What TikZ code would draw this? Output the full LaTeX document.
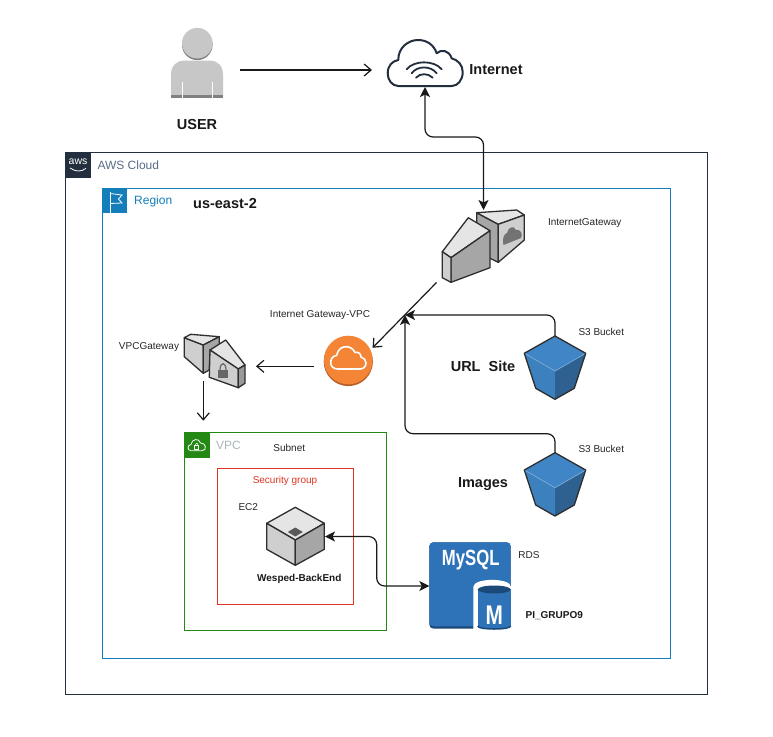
\documentclass[tikz,border=0pt]{standalone}
\usepackage{fontspec}
\setmainfont{Liberation Sans}
\usetikzlibrary{arrows.meta}
\definecolor{awsdark}{HTML}{232F3E}
\definecolor{awsblue}{HTML}{147EBA}
\definecolor{awsgreen}{HTML}{248814}
\definecolor{awsred}{HTML}{DD3522}
\definecolor{cloudtxt}{HTML}{5A6C86}
\definecolor{vpctxt}{HTML}{AAB7B8}
\definecolor{edgegray}{HTML}{2E2E2E}
\definecolor{bucketL}{HTML}{3C80BE}
\definecolor{bucketR}{HTML}{2E6090}
\definecolor{bucketT}{HTML}{4086C6}
\definecolor{rdsblue}{HTML}{2E73B8}
\definecolor{rdsdark}{HTML}{1B4A78}
\definecolor{orangemain}{HTML}{F58536}
\definecolor{orangedark}{HTML}{B9602A}
\tikzset{
  small/.style={font=\fontsize{10}{12}\selectfont,text=black!85,inner sep=0pt},
  smallbold/.style={font=\fontsize{10}{12}\selectfont\bfseries,text=black!90,inner sep=0pt},
  big/.style={font=\fontsize{14.5}{16}\selectfont\bfseries,text=black!90,inner sep=0pt},
  grouptxt/.style={font=\fontsize{12}{14}\selectfont,inner sep=0pt,anchor=west},
  groupbox/.style={draw,line width=1pt,inner sep=0pt,fill=none},
  iconbox/.style={inner sep=0pt,outer sep=0pt},
  facet/.style={draw=edgegray,line width=1.3pt,line join=round},
  wire/.style={draw=black!90,line width=1.2pt},
  openarrow/.style={wire,-{Straight Barb[length=7pt,width=12pt]}},
  solidarrow/.style={wire,-{Stealth[length=10pt,width=10pt,inset=2.5pt]},rounded corners=8pt},
  bothsolid/.style={wire,{Stealth[length=10pt,width=10pt,inset=2.5pt]}-{Stealth[length=10pt,width=10pt,inset=2.5pt]},rounded corners=8pt},
}
\begin{document}
\begin{tikzpicture}[x=1pt,y=-1pt]
\useasboundingbox (0,0) rectangle (773,736);
\fill[white] (0,0) rectangle (773,736);

% --- group boxes
\node[groupbox,draw=awsdark,minimum width=642pt,minimum height=542pt] (cloudbox) at (386.5,423.2) {};
\node[groupbox,draw=awsblue,minimum width=568pt,minimum height=470pt] (regionbox) at (386.3,423.3) {};
\node[groupbox,draw=awsgreen,minimum width=202.4pt,minimum height=197.6pt] (vpcbox) at (285.5,531.5) {};
\node[groupbox,draw=awsred,minimum width=136.4pt,minimum height=136pt] (sgbox) at (285.5,536.3) {};

% AWS logo
\fill[awsdark] (65.3,152.3) rectangle (90.5,177.5);
\node[inner sep=0pt,text=white,font=\fontsize{10.5}{12}\selectfont] (awslogo) at (78,162) {aws};
\draw[white,line width=.8pt] (70,168) .. controls (76,172) and (81,172) .. (86,168.3);
\node[grouptxt,text=cloudtxt] (cloudlabel) at (97.3,165.7) {AWS Cloud};

% Region icon
\fill[awsblue] (102.3,188.3) rectangle (127,213);
\draw[white,line width=.8pt] (110,192) -- (110,213);
\draw[white,line width=.8pt] (110,193.5) -- (122,195) -- (118.5,199) -- (122,203) -- (110,203.5);
\node[grouptxt,text=awsblue] (regionlabel) at (134,201) {Region};
\node[big,anchor=center] (regionname) at (225,203.5) {us-east-2};

% VPC icon
\fill[awsgreen] (184.3,432.7) rectangle (209.5,458);
\draw[white,line width=.8pt] (191,450.7) .. controls (187,450.7) and (187,445) .. (191,444.5)
  .. controls (191.5,439) and (199,437.5) .. (200.5,443) .. controls (206,442.5) and (207.5,450.7) .. (202,450.7) -- cycle;
\draw[white,line width=.7pt] (194.7,445.5) rectangle (198.7,449);
\draw[white,line width=.6pt] (195.5,445.5) .. controls (195.5,442.5) and (197.9,442.5) .. (197.9,445.5);
\node[grouptxt,text=vpctxt] (vpclabel) at (216,445.7) {VPC};
\node[small] (subnetlabel) at (289.3,448.3) {Subnet};
\node[small,text=awsred] (sglabel) at (285,480.7) {Security group};

% --- user
\node[iconbox,minimum width=86pt,minimum height=60pt] (user) at (197,70) {};
\fill[black!50] (197.3,44.8) circle (15.3);
\fill[black!22] (197.3,43.2) circle (15.3);
\fill[black!22] (171,96) -- (171,75) .. controls (171,66) and (176,60.7) .. (184,60.7) -- (210,60.7)
  .. controls (218,60.7) and (223,66) .. (223,75) -- (223,96) -- cycle;
\fill[black!50] (171,95) rectangle (223,98);
\fill[white] (182,81.7) rectangle (182.9,98);
\fill[white] (211.8,81.7) rectangle (212.7,98);
\node[big,anchor=center] (userlabel) at (197,124.3) {USER};

% --- internet cloud
\node[iconbox,minimum width=106pt,minimum height=34pt] (internet) at (425,70) {};
\draw[awsdark,line width=2pt,line join=round] (398.3,86) .. controls (392,86) and (387.7,80) .. (387.7,73.3)
  .. controls (387.7,66) and (392,61) .. (398.3,60) .. controls (398,48) and (408,40) .. (418,40)
  .. controls (427,40) and (434,45) .. (436.7,53.3) .. controls (441,49) and (449,50) .. (451.7,58.3)
  .. controls (458,60) and (462.7,65) .. (462.7,72) .. controls (462.7,80) and (458,86) .. (451.7,86) -- cycle;
\draw[awsdark,line width=1.8pt,line cap=round] (406.7,69.3) .. controls (414,60) and (434,60) .. (441.7,69.3);
\draw[awsdark,line width=1.8pt,line cap=round] (411.7,73.3) .. controls (417,65.5) and (431,65.5) .. (436.7,73.3);
\draw[awsdark,line width=1.8pt,line cap=round] (416,77.7) .. controls (420,73) and (428,73) .. (432.7,77.7);
\node[big,anchor=center] (internetlabel) at (496,70) {Internet};

% --- internet gateway
\node[iconbox,minimum width=84pt,minimum height=72pt] (igw) at (483.5,246) {};
\coordinate (igwout) at (436.5,282.5);
\filldraw[facet,fill=black!35] (476.7,212.7) -- (498.3,224.3) -- (498.3,262.3) -- (490,258.3) -- (476.7,250) -- cycle;
\filldraw[facet,fill=black!10] (476.7,212.7) -- (516.7,210) -- (524.3,215) -- (498.3,224.3) -- cycle;
\filldraw[facet,fill=black!19] (498.3,224.3) -- (524.3,215) -- (524.3,240) -- (498.3,262.3) -- cycle;
\fill[black!55] (503.5,245) .. controls (502,238) and (504,234) .. (507,233) .. controls (508,227) and (514,225) .. (516,230)
  .. controls (521,229) and (523,234) .. (521,238) -- cycle;
\filldraw[facet,fill=black!10] (468.3,217.7) -- (490,230.7) -- (451,257.7) -- (442.3,251.7) -- cycle;
\filldraw[facet,fill=black!35] (451,257.7) -- (490,230.7) -- (490,267.7) -- (451,282.3) -- cycle;
\filldraw[facet,fill=black!19] (442.3,251.7) -- (451,257.7) -- (451,282.3) -- (442.3,277.7) -- cycle;
\node[small] (igwlabel) at (584.7,222.7) {InternetGateway};

% --- orange cloud
\node[iconbox,circle,minimum size=55pt] (orange) at (348.3,360.7) {};
\coordinate (orangeout) at (314,366.3);
\fill[orangedark] (348.3,361.5) circle (24.6);
\fill[orangemain] (348.3,360) circle (24.3);
\draw[white,line width=1.6pt,line join=round] (338,369) .. controls (333,369) and (330.7,366) .. (330.7,362.5)
  .. controls (330.7,358.5) and (333,356) .. (336.5,355.5) .. controls (338,349) and (342,346.7) .. (346,346.7)
  .. controls (350,346.7) and (353.5,349) .. (355,352.5) .. controls (358,351.5) and (361,353.5) .. (361,357)
  .. controls (364,358) and (366,360) .. (366,363) .. controls (366,366.5) and (363.5,369) .. (360,369) -- cycle;
\node[small] (orangelabel) at (320,315) {Internet Gateway-VPC};

% --- vpc gateway
\node[iconbox,minimum width=105.4pt,minimum height=29.4pt] (vgw) at (203.3,366.3) {};
\coordinate (vpcin) at (203.3,420.7);
\filldraw[facet,fill=black!19] (184.3,337.7) -- (203.3,345) -- (203.3,373.3) -- (184.3,356.7) -- cycle;
\filldraw[facet,fill=black!10] (184.3,337.7) -- (190.7,334.3) -- (219.3,336.7) -- (203.3,345) -- cycle;
\filldraw[facet,fill=black!35] (203.3,345) -- (219.3,336.7) -- (219.3,347) -- (210,350) -- (209.3,370) -- (203.3,373.3) -- cycle;
\filldraw[facet,fill=black!10] (225.7,340) -- (245,365) -- (238.3,369) -- (210,350) -- cycle;
\filldraw[facet,fill=black!19] (210,350) -- (238.3,369) -- (238.3,387.7) -- (209.3,377.3) -- cycle;
\filldraw[facet,fill=black!40] (238.3,369) -- (245,365) -- (245,383.3) -- (238.3,387.7) -- cycle;
\fill[black!60] (218.3,370) rectangle (227.7,378.3);
\draw[black!60,line width=1.2pt] (220,370) .. controls (220,361.5) and (226,361.5) .. (226,370);
\node[small] (vgwlabel) at (149,346.7) {VPCGateway};

% --- S3 buckets
\node[iconbox,minimum width=62pt,minimum height=64pt] (s3a) at (555,368) {};
\node[iconbox,minimum width=62pt,minimum height=64pt] (s3b) at (555,484.7) {};
\coordinate (join) at (405,315);
\foreach \dy in {0,116.7}{
  \begin{scope}[yshift=-\dy pt]
  \fill[bucketL] (524.3,353.3) -- (555,371) -- (555,399.3) -- (535.7,388.3) -- cycle;
  \fill[bucketR] (585.7,353.3) -- (555,371) -- (555,399.3) -- (574.3,388.3) -- cycle;
  \fill[bucketT] (555,336) -- (585.7,353.3) -- (555,371) -- (524.3,353.3) -- cycle;
  \draw[bucketT!70!white,line width=.7pt] (524.3,353.3) -- (555,371) -- (585.7,353.3);
  \draw[edgegray,line width=1.3pt,line join=round] (555,336) -- (585.7,353.3) -- (574.3,388.3) -- (555,399.3) -- (535.7,388.3) -- (524.3,353.3) -- cycle;
  \end{scope}
}
\node[small] (s3alabel) at (601.3,331.7) {S3 Bucket};
\node[small] (s3blabel) at (601.3,449) {S3 Bucket};
\node[big,anchor=center] (urllabel) at (483,366.7) {URL\ \ Site};
\node[big,anchor=center] (imageslabel) at (483,484) {Images};

% --- EC2
\node[iconbox,minimum width=59pt,minimum height=58pt] (ec2) at (295.5,536.5) {};
\coordinate (ec2bend) at (376.7,560);
\filldraw[facet,fill=black!10] (295.3,507.3) -- (324.3,523.3) -- (295.3,540) -- (266.7,523.3) -- cycle;
\filldraw[facet,fill=black!19] (266.7,523.3) -- (295.3,540) -- (295.3,565.3) -- (266.7,549.3) -- cycle;
\filldraw[facet,fill=black!35] (295.3,540) -- (324.3,523.3) -- (324.3,549.3) -- (295.3,565.3) -- cycle;
\fill[black!65] (295.3,527.5) -- (302.8,532) -- (295.3,536.5) -- (287.8,532) -- cycle;
\node[small] (ec2label) at (248.3,507.3) {EC2};
\node[smallbold] (ec2name) at (299.3,578.7) {Wesped-BackEnd};

% --- RDS
\node[iconbox,minimum width=81.4pt,minimum height=84pt] (rds) at (470,586) {};
\fill[rdsdark,rounded corners=4pt] (429.3,542.3) rectangle (510.7,628.5);
\fill[rdsblue,rounded corners=4pt] (429.3,542.3) rectangle (510.7,626.3);
\fill[white] (473.3,630) -- (473.3,587) .. controls (473.3,577.5) and (511,577.5) .. (511,587) -- (511,630) -- cycle;
\fill[rdsblue] (477.7,589) rectangle (510.7,626);
\fill[rdsblue] (477.7,626) .. controls (477.7,630) and (510.7,630) .. (510.7,626) -- cycle;
\draw[rdsdark,line width=1.5pt] (477.7,626) .. controls (477.7,630) and (510.7,630) .. (510.7,626);
\fill[rdsdark] (494.2,589.5) ellipse (16.5 and 4);
\node[inner sep=0pt,text=white,font=\fontsize{22}{24}\selectfont\bfseries] (mysqltext) at (470.7,560) {\scalebox{.76}[1]{MySQL}};
\node[inner sep=0pt,text=white,font=\fontsize{27}{29}\selectfont\bfseries] (mtext) at (494.3,615) {\scalebox{.77}[1]{M}};
\node[small] (rdslabel) at (529,555) {RDS};
\node[smallbold] (rdsname) at (554.3,616) {PI\_GRUPO9};

% --- connectors
\draw[openarrow] (user.east) -- (internet.west);
\draw[bothsolid] (internet.south) -- ++(0,50) -| (igw.north);
\draw[openarrow] (igwout) -- (orange.28);
\draw[openarrow] (orangeout) -- (vgw.east);
\draw[openarrow] (vgw.south) -- (vpcin);
\draw[solidarrow] (s3a.north) |- (join);
\draw[solidarrow] (s3b.north) -- ++(0,-19) -| (join);
\draw[bothsolid] (ec2.east) -| (ec2bend) |- (rds.west);
\end{tikzpicture}
\end{document}
